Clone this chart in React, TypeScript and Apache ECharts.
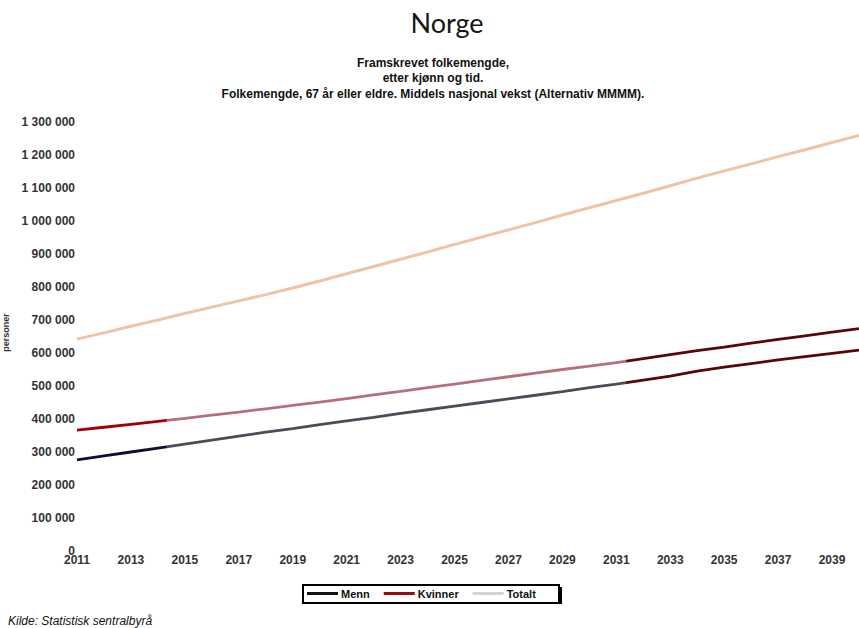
import React, { useEffect, useRef } from "react";
import * as echarts from "echarts";

// Years 2011–2040
const years: string[] = [
  "2011", "2012", "2013", "2014", "2015", "2016", "2017", "2018", "2019", "2020",
  "2021", "2022", "2023", "2024", "2025", "2026", "2027", "2028", "2029", "2030",
  "2031", "2032", "2033", "2034", "2035", "2036", "2037", "2038", "2039", "2040",
];

// Persons aged 67 and over, by sex (middle national growth, MMMM)
const menn: number[] = [
  276000, 288000, 300000, 312000, 324000, 336000, 348000, 360000, 371000, 383000,
  394000, 405000, 417000, 428000, 439000, 450000, 461000, 472000, 483000, 495000,
  506000, 518000, 530000, 545000, 557000, 568000, 579000, 589000, 599000, 609000,
];
const kvinner: number[] = [
  366000, 375000, 384000, 393000, 402000, 412000, 421000, 431000, 441000, 451000,
  462000, 473000, 484000, 495000, 506000, 517000, 528000, 539000, 550000, 560000,
  571000, 583000, 595000, 607000, 618000, 630000, 641000, 652000, 663000, 674000,
];
const totalt: number[] = [
  642000, 661000, 681000, 700000, 720000, 739000, 758000, 777000, 797000, 818000,
  840000, 862000, 884000, 906000, 929000, 951000, 973000, 995000, 1018000, 1040000,
  1062000, 1084000, 1107000, 1130000, 1152000, 1173000, 1195000, 1216000, 1238000, 1259000,
];

const subtitleLines: string[] = [
  "Framskrevet folkemengde,",
  "etter kjønn og tid.",
  "Folkemengde, 67 år eller eldre. Middels nasjonal vekst (Alternativ MMMM).",
];

const fmt = (v: number) => String(v).replace(/\B(?=(\d{3})+(?!\d))/g, " ");

const SANS = "Liberation Sans, Arial, sans-serif";

// three-tone stroke along the line (dark start, faded middle, dark end)
const banded = (a: string, b: string, c: string) =>
  new echarts.graphic.LinearGradient(0, 0, 1, 0, [
    { offset: 0, color: a },
    { offset: 0.114, color: a },
    { offset: 0.115, color: b },
    { offset: 0.702, color: b },
    { offset: 0.703, color: c },
    { offset: 1, color: c },
  ]);

export default function App() {
  const ref = useRef<HTMLDivElement>(null);

  useEffect(() => {
    if (!ref.current) return;
    const chart = echarts.init(ref.current, null, { renderer: "svg" });
    const axisFont = {
      fontFamily: SANS,
      fontWeight: "bold" as const,
      fontSize: 12,
      color: "#333",
    };
    chart.setOption({
      animation: false,
      backgroundColor: "#ffffff",
      grid: {
        left: 77,
        right: 0,
        top: 122,
        bottom: 77,
        outerBoundsMode: "none",
      },
      xAxis: {
        type: "category",
        data: years,
        boundaryGap: false,
        axisLine: { show: false },
        axisTick: { show: false },
        splitLine: { show: false },
        axisLabel: { ...axisFont, interval: 1, margin: 3 },
      },
      yAxis: {
        type: "value",
        min: 0,
        max: 1300000,
        interval: 100000,
        name: "personer",
        nameLocation: "middle",
        nameRotate: 90,
        nameGap: 64,
        nameTextStyle: {
          fontFamily: SANS,
          fontWeight: "bold",
          fontSize: 9,
          color: "#333",
          padding: [0, 0, 0, 8],
        },
        axisLine: { show: false },
        axisTick: { show: false },
        splitLine: { show: false },
        axisLabel: { ...axisFont, margin: 2, formatter: (v: number) => fmt(v) },
      },
      legend: {
        left: 307,
        top: 588,
        padding: 0,
        icon: "rect",
        itemWidth: 31,
        itemHeight: 3,
        itemGap: 14,
        textStyle: {
          fontFamily: SANS,
          fontWeight: "bold",
          fontSize: 11,
          color: "#111",
          padding: [0, 0, 0, -2],
        },
        data: [
          { name: "Menn", itemStyle: { color: "#111111" } },
          { name: "Kvinner", itemStyle: { color: "#9a0a0a" } },
          { name: "Totalt", itemStyle: { color: "#d8d2cc" } },
        ],
      },
      series: [
        {
          name: "Menn",
          type: "line",
          data: menn,
          symbol: "none",
          lineStyle: { width: 2.8, color: banded("#0d0d35", "#4c4c58", "#5a0606") },
        },
        {
          name: "Kvinner",
          type: "line",
          data: kvinner,
          symbol: "none",
          lineStyle: { width: 2.8, color: banded("#a00000", "#b5707c", "#5a0606") },
        },
        {
          name: "Totalt",
          type: "line",
          data: totalt,
          symbol: "none",
          lineStyle: { width: 3, color: "#eec3a8" },
        },
      ],
      graphic: [
        {
          type: "text",
          x: 447,
          y: 22,
          style: {
            text: "Norge",
            align: "center",
            verticalAlign: "middle",
            fontFamily: "Lato, Open Sans, sans-serif",
            fontSize: 27,
            fill: "#151515",
          },
        },
        ...subtitleLines.map((t, i) => ({
          type: "text",
          x: 433,
          y: [63, 78, 94][i],
          style: {
            text: t,
            align: "center",
            verticalAlign: "middle",
            fontFamily: SANS,
            fontWeight: "bold",
            fontSize: 12,
            fill: "#111",
          },
        })),
        {
          type: "rect",
          shape: { x: 303, y: 585, width: 256, height: 18 },
          style: { fill: "none", stroke: "#000", lineWidth: 2 },
        },
        {
          type: "line",
          shape: { x1: 561, y1: 587, x2: 561, y2: 604 },
          style: { stroke: "#000", lineWidth: 2 },
        },
        {
          type: "text",
          x: 8,
          y: 621,
          style: {
            text: "Kilde: Statistisk sentralbyrå",
            verticalAlign: "middle",
            fontFamily: SANS,
            fontStyle: "italic",
            fontSize: 12,
            fill: "#111",
          },
        },
      ],
    });
    return () => chart.dispose();
  }, []);

  return (
    <div
      ref={ref}
      style={{ position: "fixed", left: 0, top: 0, width: 859, height: 628 }}
    />
  );
}
